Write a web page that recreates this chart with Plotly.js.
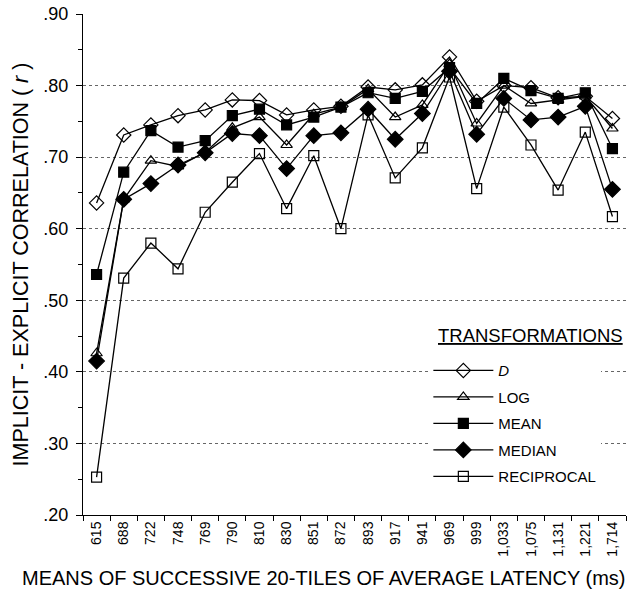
<!DOCTYPE html>
<html>
<head>
<meta charset="utf-8">
<script src="https://cdn.plot.ly/plotly-3.0.1.min.js"></script>
<style>html,body{margin:0;padding:0;background:#fff;}</style>
</head>
<body>
<div id="chart" style="width:644px;height:596px;"></div>
<script>
const categories = ["615","688","722","748","769","790","810","830","851","872","893","917","941","969","999","1,033","1,075","1,131","1,221","1,714"];
const seriesD      = [0.636,0.731,0.745,0.758,0.766,0.780,0.779,0.759,0.766,0.771,0.798,0.794,0.801,0.840,0.778,0.800,0.797,0.783,0.785,0.754];
const seriesLog    = [0.426,0.641,0.695,0.687,0.707,0.741,0.756,0.717,0.760,0.770,0.795,0.756,0.773,0.830,0.747,0.800,0.775,0.780,0.785,0.740];
const seriesMean   = [0.536,0.679,0.737,0.714,0.723,0.758,0.767,0.745,0.756,0.770,0.790,0.782,0.792,0.825,0.775,0.810,0.793,0.782,0.790,0.712];
const seriesMedian = [0.415,0.641,0.663,0.689,0.706,0.733,0.730,0.684,0.730,0.734,0.767,0.725,0.761,0.820,0.732,0.782,0.752,0.756,0.771,0.655];
const seriesRecip  = [0.253,0.531,0.580,0.544,0.623,0.665,0.705,0.628,0.702,0.600,0.759,0.671,0.713,0.812,0.656,0.770,0.717,0.654,0.735,0.617];
const yTickVals = [0.2,0.3,0.4,0.5,0.6,0.7,0.8,0.9];
const yTickText = [".20",".30",".40",".50",".60",".70",".80",".90"];

const names = ["<i>D</i>","LOG","MEAN","MEDIAN","RECIPROCAL"];
const symbols = ["diamond-open","triangle-up-open","square","diamond","square-open"];
const sizes = [11,10,10,12,10];
const allSeries = [seriesD, seriesLog, seriesMean, seriesMedian, seriesRecip];

const traces = allSeries.map((s, i) => ({
  type: "scatter",
  mode: "lines+markers",
  x: categories,
  y: s,
  name: names[i],
  legendgroup: "g" + i,
  line: {color: "#000", width: 1.3},
  marker: {symbol: symbols[i], size: sizes[i], color: "#000", line: {color: "#000", width: 1.2}}
}));

const layout = {
  width: 644, height: 596,
  margin: {l: 83, r: 18, t: 14, b: 81},
  paper_bgcolor: "#fff", plot_bgcolor: "#fff",
  font: {family: "Liberation Sans, Arial, sans-serif", color: "#000"},
  showlegend: true,
  legend: {
    x: 0.636, y: 0.321, xanchor: "left", yanchor: "top",
    bgcolor: "#fff", borderwidth: 0,
    font: {size: 15, color: "#000"},
    tracegroupgap: 4, itemwidth: 60
  },
  annotations: [
    {
      xref: "paper", yref: "paper", x: 0.65, y: 0.359, xanchor: "left", yanchor: "middle",
      text: "<u>TRANSFORMATIONS</u>", showarrow: false, font: {size: 18.5, color: "#000"}
    },
    {
      xref: "paper", yref: "paper", x: 0.442, y: -0.126, xanchor: "center", yanchor: "middle",
      text: "MEANS OF SUCCESSIVE 20-TILES OF AVERAGE LATENCY (ms)", showarrow: false,
      font: {size: 20, color: "#000"}
    }
  ],
  xaxis: {
    type: "category", range: [-0.5, 19.5],
    showline: true, linecolor: "#000", linewidth: 1,
    ticks: "outside", tickson: "boundaries", ticklen: 5, tickcolor: "#000",
    tickangle: -90, tickfont: {size: 14},
    showgrid: false, zeroline: false
  },
  yaxis: {
    range: [0.2, 0.9],
    tickmode: "array", tickvals: yTickVals, ticktext: yTickText,
    showline: true, linecolor: "#000", linewidth: 1,
    ticks: "outside", ticklen: 6, tickcolor: "#000",
    ticklabelstandoff: 4,
    tickfont: {size: 18},
    showgrid: true, gridcolor: "#666", griddash: "dot", gridwidth: 1,
    zeroline: false,
    minor: {tickmode: "linear", tick0: 0.25, dtick: 0.1, ticks: "outside", ticklen: 4, tickcolor: "#000", showgrid: false},
    title: {text: "IMPLICIT - EXPLICIT CORRELATION ( <i>r</i> )", font: {size: 21.5}, standoff: 8}
  }
};

Plotly.newPlot("chart", traces, layout, {displayModeBar: false, staticPlot: true});
</script>
</body>
</html>
